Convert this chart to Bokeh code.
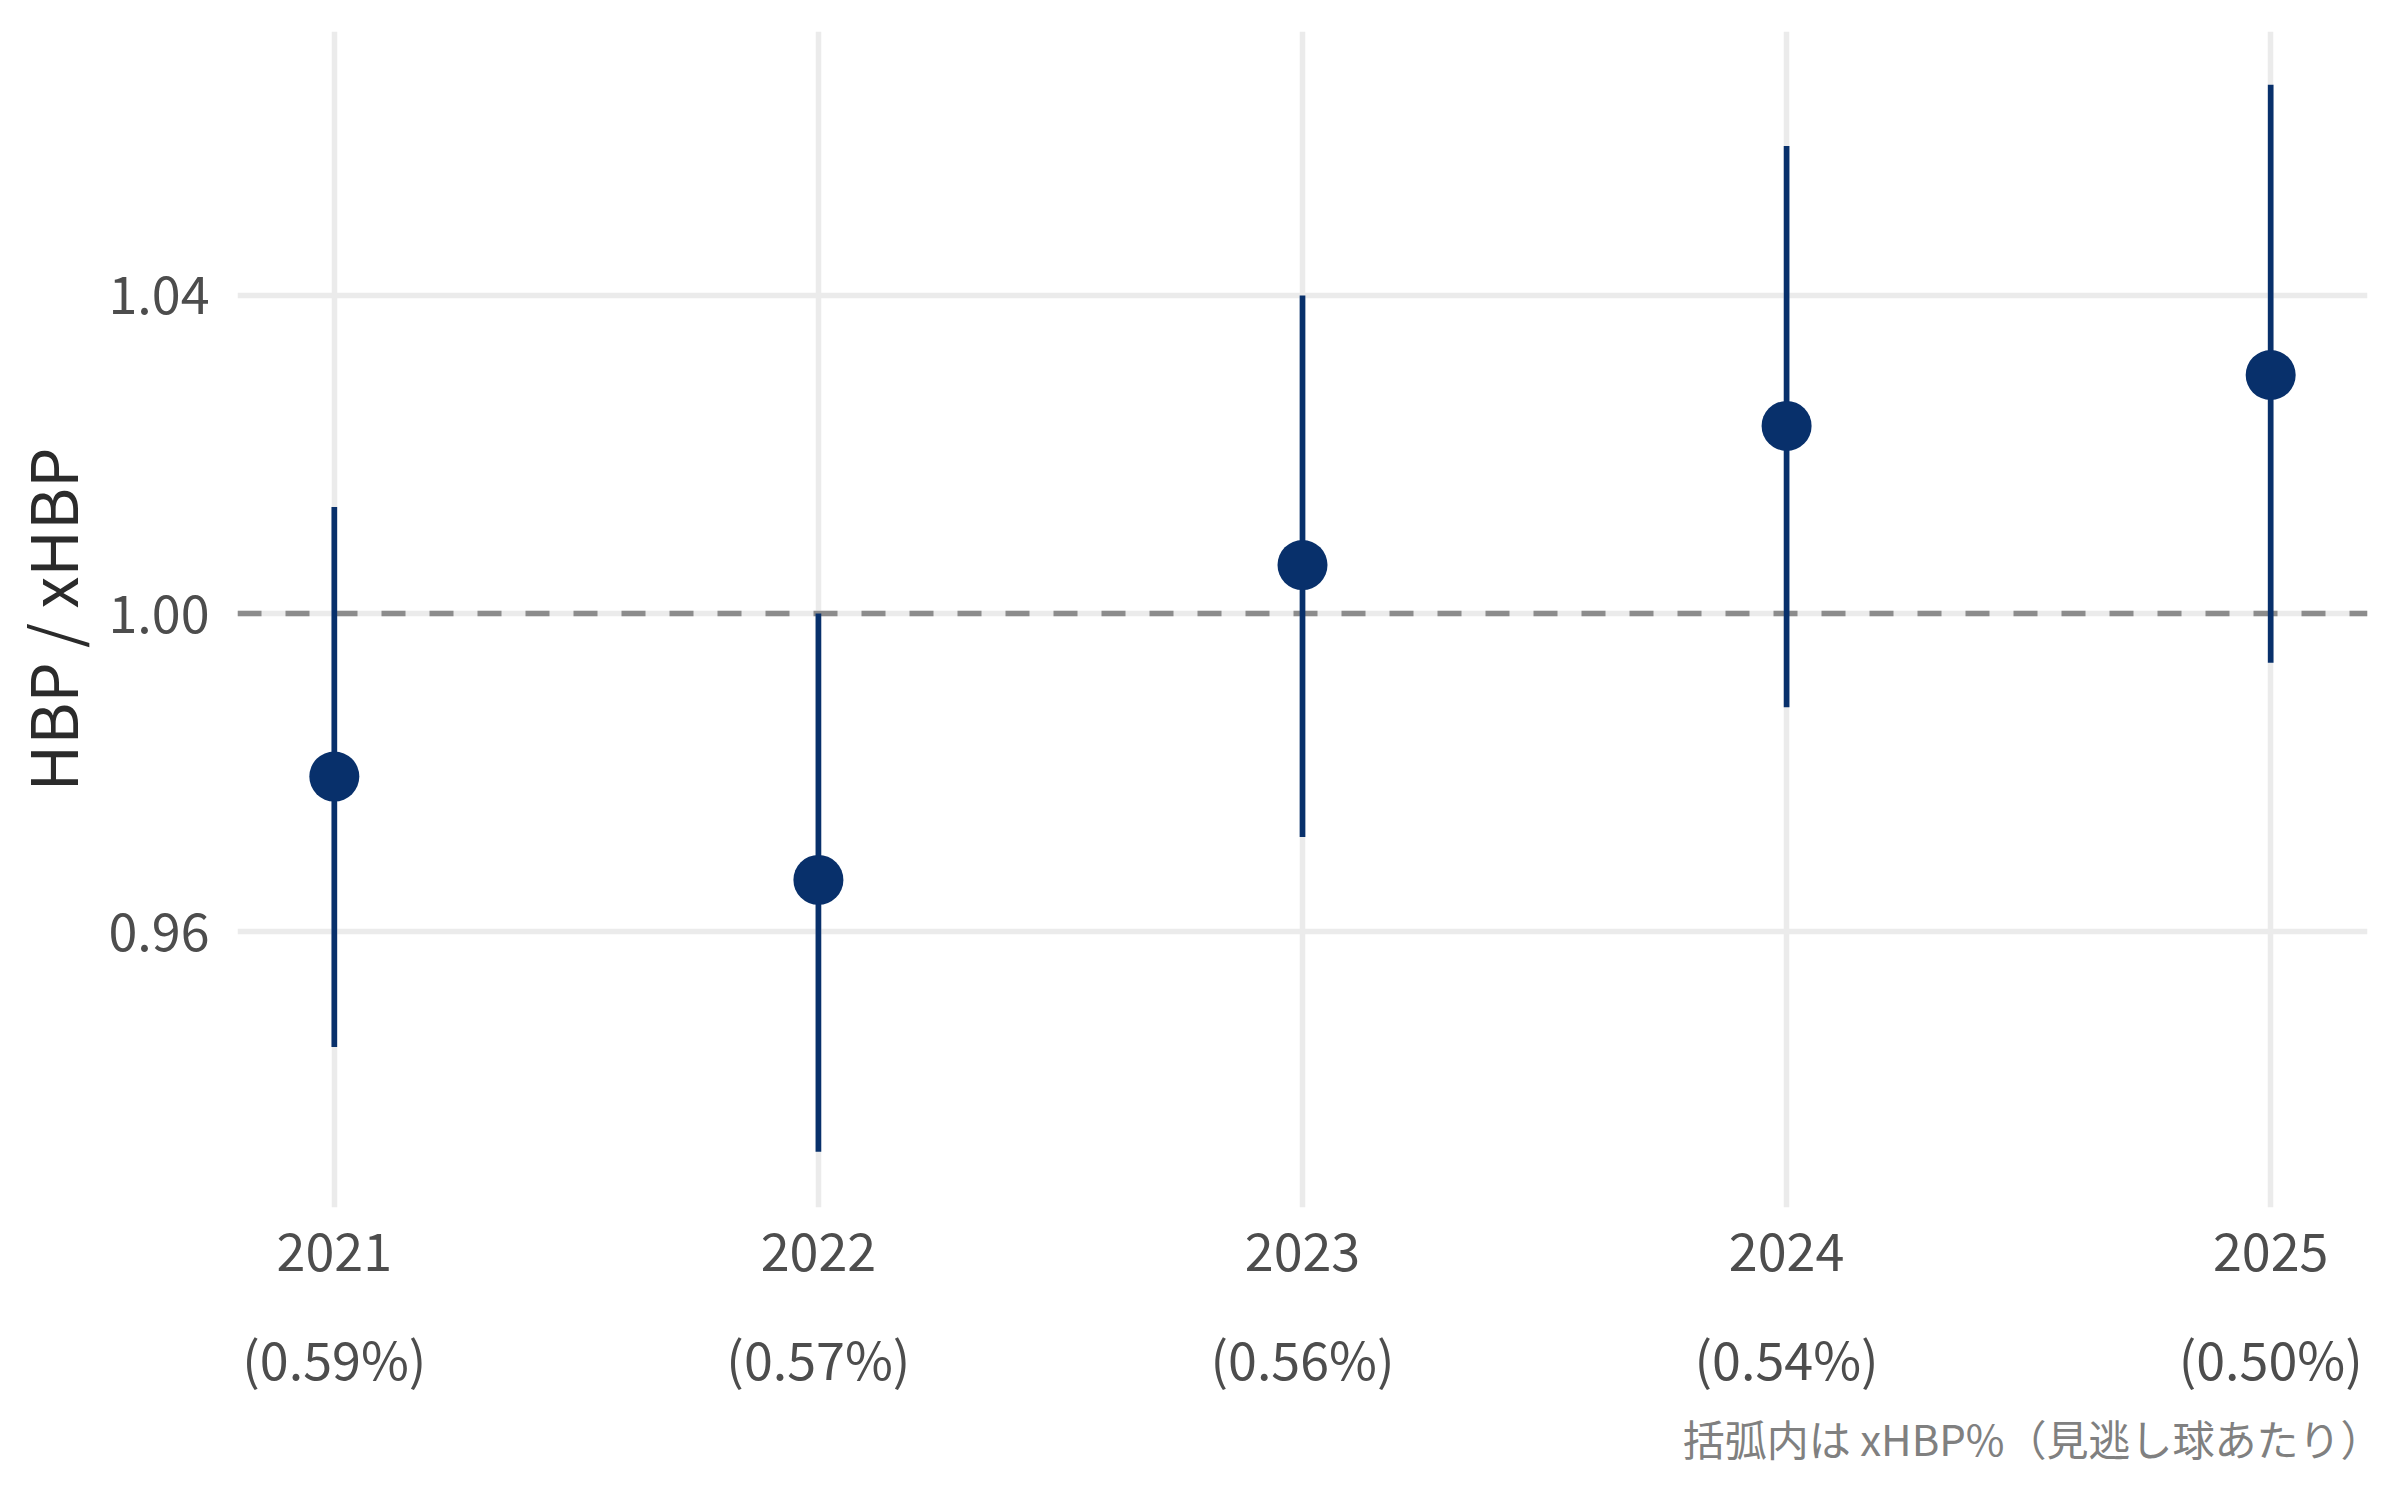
from bokeh.plotting import figure
from bokeh.models import Range1d, FixedTicker, LinearAxis, Title, ColumnDataSource
from bokeh.embed import file_html
from bokeh.resources import INLINE

# ---- data ----
years = [2021, 2022, 2023, 2024, 2025]
ratio = [0.9795, 0.9665, 1.0061, 1.0236, 1.0300]
lower = [0.9455, 0.9323, 0.9719, 0.9882, 0.9938]
upper = [1.0134, 1.0000, 1.0400, 1.0588, 1.0665]
xhbp_pct_labels = ["(0.59%)", "(0.57%)", "(0.56%)", "(0.54%)", "(0.50%)"]
y_ticks = [0.96, 1.00, 1.04]
y_tick_labels = ["0.96", "1.00", "1.04"]
ref_value = 1.0
y_title = "HBP / xHBP"
caption = "括弧内は xHBP%（見逃し球あたり）"

FONT = "Noto Sans CJK JP"
NAVY = "#08306B"
GRID = "#EBEBEB"
TICK_COL = "#4D4D4D"

src = ColumnDataSource(dict(year=years, ratio=ratio, lower=lower, upper=upper))

p = figure(width=2384, height=1484, output_backend="svg", toolbar_location=None,
           x_range=Range1d(2020.8, 2025.2), y_range=Range1d(0.9253, 1.0732),
           min_border_left=237, min_border_right=17, min_border_top=31,
           min_border_bottom=277)
p.outline_line_color = None
p.background_fill_color = "white"
p.border_fill_color = "white"

# axes
xa = p.xaxis[0]
xa.ticker = FixedTicker(ticks=years)
xa.major_label_overrides = {y: str(y) for y in years}
ya = p.yaxis[0]
ya.ticker = FixedTicker(ticks=y_ticks)
ya.major_label_overrides = {t: l for t, l in zip(y_ticks, y_tick_labels)}
ya.axis_label = y_title

pct_axis = LinearAxis(ticker=FixedTicker(ticks=years),
                      major_label_overrides={y: l for y, l in zip(years, xhbp_pct_labels)})
p.add_layout(pct_axis, "below")

for ax in [xa, ya, pct_axis]:
    ax.axis_line_color = None
    ax.major_tick_line_color = None
    ax.minor_tick_line_color = None
    ax.major_tick_out = 0
    ax.major_tick_in = 0
    ax.major_label_text_font = FONT
    ax.major_label_text_font_size = "52px"
    ax.major_label_text_color = TICK_COL

xa.major_label_standoff = 25
pct_axis.major_label_standoff = 46
ya.major_label_standoff = 28
ya.axis_label_text_font = FONT
ya.axis_label_text_font_size = "64px"
ya.axis_label_text_font_style = "normal"
ya.axis_label_text_color = "#2B2B2B"
ya.axis_label_standoff = 9

# grids
p.xgrid.ticker = FixedTicker(ticks=years)
p.ygrid.ticker = FixedTicker(ticks=y_ticks)
for g in [p.xgrid, p.ygrid]:
    g.grid_line_color = GRID
    g.grid_line_width = 5.5

# reference line
p.hspan(y=[ref_value], line_color="#8C8C8C", line_width=5.5, line_dash="24 24")

# error bars and points
p.segment(x0="year", y0="lower", x1="year", y1="upper", source=src,
          line_color=NAVY, line_width=5.7)
p.scatter(x="year", y="ratio", source=src, size=50, fill_color=NAVY,
          line_color=None)

# caption
cap = Title(text=caption, align="right", text_font=FONT, text_font_size="42px",
            text_font_style="normal", text_color="#808080", offset=-15, standoff=15)
p.add_layout(cap, "below")

open("out.html", "w").write(file_html(p, INLINE))
